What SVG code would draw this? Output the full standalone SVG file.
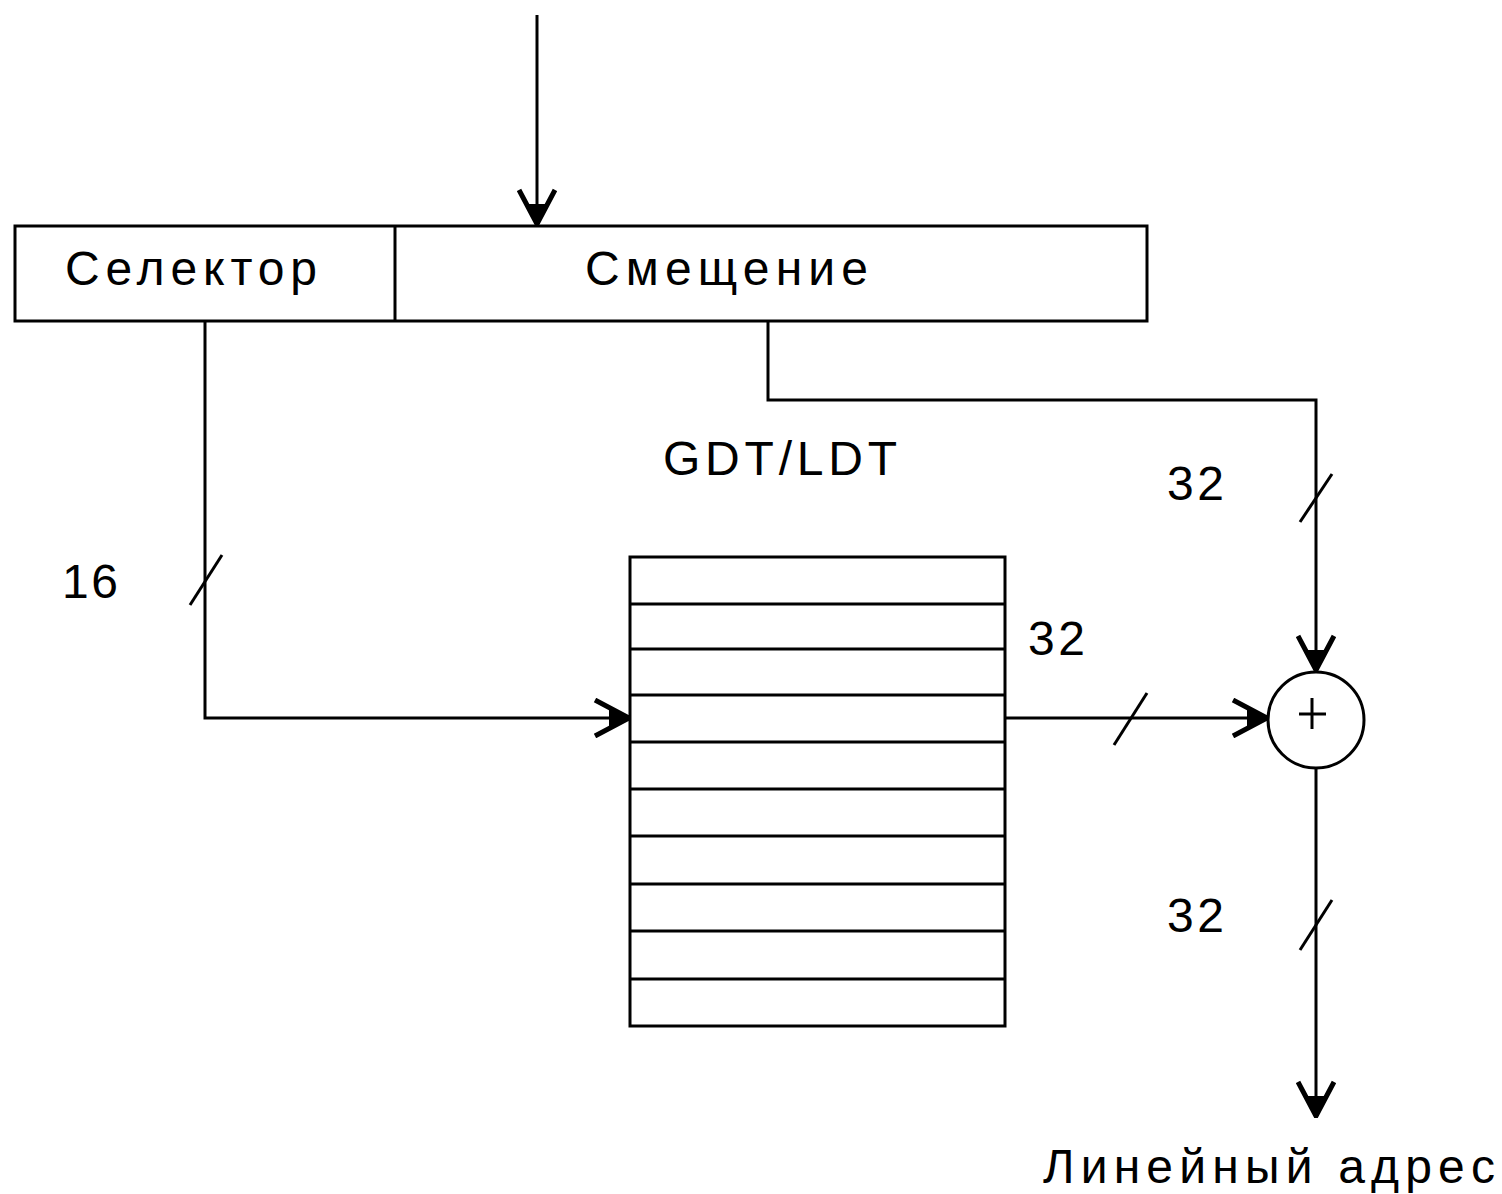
<svg xmlns="http://www.w3.org/2000/svg" width="1502" height="1194" viewBox="0 0 1502 1194">
<defs>
<style>
.ln{fill:none;stroke:#000;stroke-width:3}
.bx{fill:#fff;stroke:#000;stroke-width:3}
.tx{font-family:"Liberation Sans",Arial,sans-serif;font-size:48px;fill:#000}
</style>
<marker id="ah" viewBox="0 0 40 40" refX="38" refY="20" markerWidth="40" markerHeight="40" markerUnits="userSpaceOnUse" orient="auto">
<path d="M4 2 L38 20 L4 38" fill="none" stroke="#000" stroke-width="5"/>
<path d="M18 10 L38 20 L18 30 Z" fill="#000"/>
</marker>
</defs>
<rect width="1502" height="1194" fill="#fff"/>
<g id="register">
<rect class="bx" x="15" y="226" width="1132" height="95"/>
<line class="ln" x1="395" y1="226" x2="395" y2="321"/>
<text class="tx" x="65" y="285" textLength="252" lengthAdjust="spacing">Селектор</text>
<text class="tx" x="585" y="285" textLength="283" lengthAdjust="spacing">Смещение</text>
</g>
<g id="table">
<rect class="bx" x="630" y="557" width="375" height="469"/>
<g class="ln">
<line x1="630" y1="604" x2="1005" y2="604"/>
<line x1="630" y1="649" x2="1005" y2="649"/>
<line x1="630" y1="695" x2="1005" y2="695"/>
<line x1="630" y1="742" x2="1005" y2="742"/>
<line x1="630" y1="789" x2="1005" y2="789"/>
<line x1="630" y1="836" x2="1005" y2="836"/>
<line x1="630" y1="884" x2="1005" y2="884"/>
<line x1="630" y1="931" x2="1005" y2="931"/>
<line x1="630" y1="979" x2="1005" y2="979"/>
</g>
<text class="tx" x="663" y="475" textLength="234" lengthAdjust="spacing">GDT/LDT</text>
</g>
<g id="adder">
<circle class="bx" cx="1316" cy="720" r="48"/>
<line class="ln" x1="1299" y1="714" x2="1326" y2="714"/>
<line class="ln" x1="1312" y1="698" x2="1312" y2="729"/>
</g>
<g id="labels">
<text class="tx" x="62" y="598" textLength="56" lengthAdjust="spacing">16</text>
<text class="tx" x="1167" y="500" textLength="57" lengthAdjust="spacing">32</text>
<text class="tx" x="1028" y="655" textLength="57" lengthAdjust="spacing">32</text>
<text class="tx" x="1167" y="932" textLength="57" lengthAdjust="spacing">32</text>
<text class="tx" x="1043" y="1183" textLength="452" lengthAdjust="spacing">Линейный адрес</text>
</g>
<g id="connectors">
<line class="ln" x1="537" y1="15" x2="537" y2="224" marker-end="url(#ah)"/>
<polyline class="ln" points="205,321 205,718 629,718" marker-end="url(#ah)"/>
<polyline class="ln" points="768,321 768,400 1316,400 1316,670" marker-end="url(#ah)"/>
<line class="ln" x1="1005" y1="718" x2="1267" y2="718" marker-end="url(#ah)"/>
<line class="ln" x1="1316" y1="768" x2="1316" y2="1116" marker-end="url(#ah)"/>
<g class="ln" stroke-width="2.5">
<line x1="190" y1="605" x2="222" y2="555"/>
<line x1="1300" y1="522" x2="1332" y2="474"/>
<line x1="1114" y1="745" x2="1147" y2="693"/>
<line x1="1300" y1="950" x2="1332" y2="900"/>
</g>
</g>
</svg>
